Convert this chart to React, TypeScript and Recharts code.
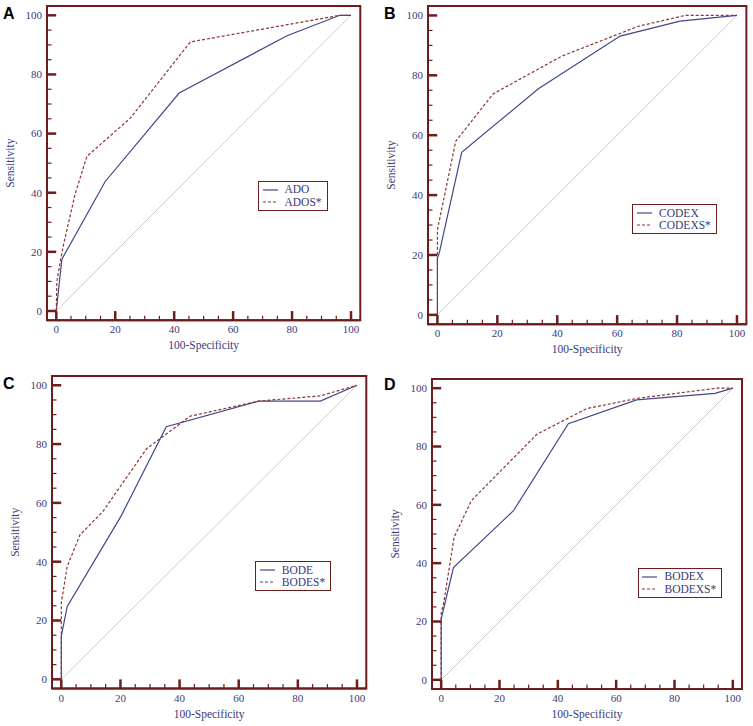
import React from 'react';
import { LineChart, Line, XAxis, YAxis, Legend, Label, ReferenceArea } from 'recharts';

// ---------- data (x = 100-Specificity, y = Sensitivity) ----------
const tickValues = [0, 5, 10, 15, 20, 25, 30, 35, 40, 45, 50, 55, 60, 65, 70, 75, 80, 85, 90, 95, 100];
const diagonal = [[0, 0], [100, 100]];

const adoNames = ['ADO', 'ADOS*'];
const ado = [[0, 0], [1.9, 17.5], [16.6, 43.8], [41.7, 73.7], [78.3, 93.1], [96.2, 100], [100, 100]];
const ados = [[0, 0], [0.2, 10], [1.4, 17], [2.5, 22.6], [6.4, 39.6], [10.4, 52.3], [25.1, 65.2], [45.5, 91], [96.2, 100], [100, 100]];

const codexNames = ['CODEX', 'CODEXS*'];
const codex = [[0, 0], [0, 19], [0.6, 20.6], [8.1, 54.3], [33.7, 75.5], [61, 93.1], [81, 98.1], [100, 100]];
const codexs = [[0, 0], [0, 28.4], [6.1, 58], [18.6, 73.8], [41.5, 86.4], [67.1, 96.4], [82.7, 100], [100, 100]];

const bodeNames = ['BODE', 'BODES*'];
const bode = [[0, 0], [0, 14.7], [2, 24.8], [20.2, 55.5], [35.5, 85.9], [66.7, 94.6], [87.6, 94.6], [100, 100]];
const bodes = [[0, 0], [0, 26], [2, 38.4], [6.3, 49.1], [14, 57], [28.9, 78.5], [43.6, 89.5], [66.7, 94.6], [87.6, 96.4], [100, 100]];

const bodexNames = ['BODEX', 'BODEXS*'];
const bodex = [[0, 0], [0, 20.8], [4.2, 38.5], [24.8, 58], [43.6, 87.8], [67, 96], [93.9, 98.2], [100, 100]];
const bodexs = [[0, 0], [0, 23], [0.8, 26], [4.4, 48.8], [10.3, 61.4], [32.8, 84.2], [49.9, 93], [67.1, 96.5], [94.5, 100], [100, 100]];

const xTitle = '100-Specificity';
const yTitle = 'Sensitivity';

// ---------- styles ----------
const MAROON = '#6e1c1c';
const NAVY = '#3a3a7a';
const SOLID = '#45458a';
const DASHED = '#8c3535';
const DIAG = '#cbcbcb';
const SERIF = '"Liberation Serif", "Times New Roman", serif';
const SANS = '"Liberation Sans", Arial, sans-serif';
const DOMAIN: [number, number] = [-3.15, 103.15];
const YW = 50;
const XH = 40;
const MT = 2;
const MR = 2;

const toPts = (a: number[][]) => a.map(([x, y]) => ({ x, y }));

const XTick = (props: any) => {
  const { x, y, payload } = props;
  const v = payload.value;
  const major = v % 20 === 0;
  return (
    <g>
      <line x1={x} y1={y} x2={x} y2={y - (major ? 9.2 : 4.5)} stroke={MAROON} strokeWidth={major ? 2.5 : 1.2} />
      {major && (
        <text x={x} y={y + 13} textAnchor="middle" fill={NAVY} fontFamily={SERIF} fontSize={11}>
          {v}
        </text>
      )}
    </g>
  );
};

const YTick = (props: any) => {
  const { x, y, payload } = props;
  const v = payload.value;
  const major = v % 20 === 0;
  return (
    <g>
      <line x1={x} y1={y} x2={x + (major ? 9.2 : 4.5)} y2={y} stroke={MAROON} strokeWidth={major ? 2.5 : 1.2} />
      {major && (
        <text x={x - 5} y={y + 3.8} textAnchor="end" fill={NAVY} fontFamily={SERIF} fontSize={11}>
          {v}
        </text>
      )}
    </g>
  );
};

const XTitle = (props: any) => {
  const vb = props.viewBox || {};
  return (
    <text x={vb.x + vb.width / 2} y={vb.y + 29} textAnchor="middle" fill={NAVY} fontFamily={SERIF} fontSize={11.5}>
      {xTitle}
    </text>
  );
};

const YTitle = (props: any) => {
  const vb = props.viewBox || {};
  const cx = vb.x + vb.width - 37;
  const cy = vb.y + vb.height / 2;
  return (
    <text
      x={cx}
      y={cy}
      textAnchor="middle"
      dominantBaseline="central"
      transform={`rotate(-90, ${cx}, ${cy})`}
      fill={NAVY}
      fontFamily={SERIF}
      fontSize={11.5}
    >
      {yTitle}
    </text>
  );
};

const LegendBox = ({ names }: { names: string[] }) => (
  <div
    style={{
      border: `1.5px solid ${MAROON}`,
      background: '#fff',
      padding: '1.7px 5px 1.7px 3.8px',
      fontFamily: SERIF,
      fontSize: 11.5,
      color: NAVY,
      lineHeight: '12.3px',
      whiteSpace: 'nowrap',
    }}
  >
    {names.map((n, i) => (
      <div key={n} style={{ display: 'flex', alignItems: 'center', height: 12.3 }}>
        <svg width={15} height={4} style={{ marginRight: 7, display: 'block' }}>
          <line
            x1={0}
            y1={2}
            x2={15}
            y2={2}
            stroke={i === 0 ? SOLID : DASHED}
            strokeWidth={1.2}
            strokeDasharray={i === 0 ? undefined : '3 2'}
          />
        </svg>
        <span>{n}</span>
      </div>
    ))}
  </div>
);

type PanelCfg = {
  letter: string;
  frame: [number, number, number, number];
  letterPos: [number, number];
  legendPos: [number, number];
  names: string[];
  solid: number[][];
  dashed: number[][];
};

const panels: PanelCfg[] = [
  { letter: 'A', frame: [46.7, 5.7, 313.3, 314.3], letterPos: [3, 5.5], legendPos: [257.7, 180.7], names: adoNames, solid: ado, dashed: ados },
  { letter: 'B', frame: [428.3, 5.7, 318.4, 318.3], letterPos: [384, 5.5], legendPos: [632.3, 204.3], names: codexNames, solid: codex, dashed: codexs },
  { letter: 'C', frame: [51.7, 375.7, 314.3, 312.6], letterPos: [3, 375.8], legendPos: [255, 561], names: bodeNames, solid: bode, dashed: bodes },
  { letter: 'D', frame: [431.7, 379.3, 310, 310], letterPos: [384, 377.2], legendPos: [637.7, 567.7], names: bodexNames, solid: bodex, dashed: bodexs },
];

const Panel = ({ cfg }: { cfg: PanelCfg }) => {
  const [fx, fy, fw, fh] = cfg.frame;
  const left = fx - YW;
  const top = fy - MT;
  const width = YW + fw + MR;
  const height = MT + fh + XH;
  const axisLine = { stroke: MAROON, strokeWidth: 2 };
  return (
    <>
      <div
        style={{
          position: 'absolute',
          left: cfg.letterPos[0],
          top: cfg.letterPos[1],
          fontFamily: SANS,
          fontWeight: 'bold',
          fontSize: 16,
          lineHeight: '16px',
          color: '#000',
        }}
      >
        {cfg.letter}
      </div>
      <div style={{ position: 'absolute', left, top, width, height }}>
        <LineChart width={width} height={height} margin={{ top: MT, right: MR, bottom: 0, left: 0 }}>
          <XAxis
            type="number"
            dataKey="x"
            domain={DOMAIN}
            allowDataOverflow
            ticks={tickValues}
            interval={0}
            height={XH}
            tickSize={0}
            tickMargin={0}
            tickLine={false}
            axisLine={axisLine}
            tick={<XTick />}
          >
            <Label content={<XTitle />} />
          </XAxis>
          <YAxis
            type="number"
            dataKey="y"
            domain={DOMAIN}
            allowDataOverflow
            ticks={tickValues}
            interval={0}
            width={YW}
            tickSize={0}
            tickMargin={0}
            tickLine={false}
            axisLine={axisLine}
            tick={<YTick />}
          >
            <Label content={<YTitle />} />
          </YAxis>
          <ReferenceArea
            x1={DOMAIN[0]}
            x2={DOMAIN[1]}
            y1={DOMAIN[0]}
            y2={DOMAIN[1]}
            fill="none"
            fillOpacity={0}
            stroke={MAROON}
            strokeWidth={2}
            ifOverflow="visible"
          />
          <Line
            data={toPts(diagonal)}
            dataKey="y"
            type="linear"
            stroke={DIAG}
            strokeWidth={1}
            dot={false}
            activeDot={false}
            isAnimationActive={false}
            legendType="none"
          />
          <Line
            data={toPts(cfg.solid)}
            dataKey="y"
            name={cfg.names[0]}
            type="linear"
            stroke={SOLID}
            strokeWidth={1.2}
            dot={false}
            activeDot={false}
            isAnimationActive={false}
          />
          <Line
            data={toPts(cfg.dashed)}
            dataKey="y"
            name={cfg.names[1]}
            type="linear"
            stroke={DASHED}
            strokeWidth={1.2}
            strokeDasharray="3 2"
            dot={false}
            activeDot={false}
            isAnimationActive={false}
          />
          <Legend
            layout="vertical"
            align="center"
            verticalAlign="middle"
            wrapperStyle={{ left: cfg.legendPos[0] - left, top: cfg.legendPos[1] - top, width: 'auto' }}
            content={() => <LegendBox names={cfg.names} />}
          />
        </LineChart>
      </div>
    </>
  );
};

export default function App() {
  return (
    <div style={{ position: 'absolute', left: 0, top: 0, width: 753, height: 726, background: '#fff', overflow: 'hidden' }}>
      {panels.map((p) => (
        <Panel key={p.letter} cfg={p} />
      ))}
    </div>
  );
}
